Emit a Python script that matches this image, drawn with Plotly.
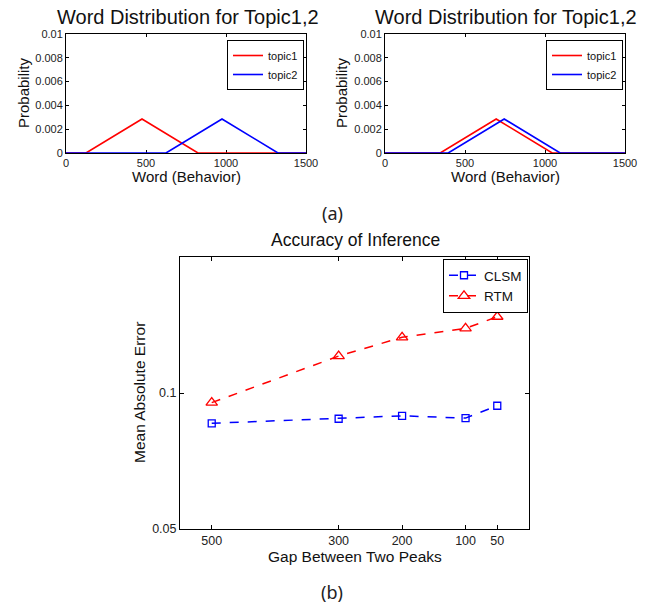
import plotly.graph_objects as go

# ---- data ----
# (a) left panel: gap 500
left_topic1_x = [0, 125, 475, 825, 1500]
left_topic1_y = [0, 0, 0.00286, 0, 0]
left_topic2_x = [0, 625, 975, 1325, 1500]
left_topic2_y = [0, 0, 0.00286, 0, 0]
# (a) right panel: gap 50
right_topic1_x = [0, 345, 695, 1045, 1500]
right_topic1_y = [0, 0, 0.00286, 0, 0]
right_topic2_x = [0, 395, 745, 1095, 1500]
right_topic2_y = [0, 0, 0.00286, 0, 0]

word_ticks = [0, 500, 1000, 1500]
prob_ticks = [0, 0.002, 0.004, 0.006, 0.008, 0.01]
prob_tick_text = ["0", "0.002", "0.004", "0.006", "0.008", "0.01"]

# (b) accuracy of inference
gap = [500, 300, 200, 100, 50]
clsm = [0.0857, 0.0877, 0.0890, 0.0880, 0.0937]
rtm = [0.0952, 0.1207, 0.1328, 0.1390, 0.1475]
mae_ticks = [0.05, 0.1]
mae_tick_text = ["0.05", "0.1"]

W, H = 656, 608
FONT = "Liberation Sans, Arial, Helvetica, sans-serif"
RED = "#ff0000"
BLUE = "#0000ff"


def fx(x):
    return x / W


def fy(y):
    return 1 - y / H


fig = go.Figure()

# top-left
fig.add_trace(go.Scatter(x=left_topic1_x, y=left_topic1_y, mode="lines", name="topic1",
                         line=dict(color=RED, width=1.6), xaxis="x", yaxis="y", legend="legend"))
fig.add_trace(go.Scatter(x=left_topic2_x, y=left_topic2_y, mode="lines", name="topic2",
                         line=dict(color=BLUE, width=1.6), xaxis="x", yaxis="y", legend="legend"))
# top-right
fig.add_trace(go.Scatter(x=right_topic1_x, y=right_topic1_y, mode="lines", name="topic1",
                         line=dict(color=RED, width=1.6), xaxis="x2", yaxis="y2", legend="legend2"))
fig.add_trace(go.Scatter(x=right_topic2_x, y=right_topic2_y, mode="lines", name="topic2",
                         line=dict(color=BLUE, width=1.6), xaxis="x2", yaxis="y2", legend="legend2"))
# bottom
fig.add_trace(go.Scatter(x=gap, y=clsm, mode="lines+markers", name="CLSM",
                         line=dict(color=BLUE, width=1.5, dash="dash"),
                         marker=dict(symbol="square-open", size=7, color=BLUE, line=dict(width=1.3)),
                         xaxis="x3", yaxis="y3", legend="legend3"))
fig.add_trace(go.Scatter(x=gap, y=rtm, mode="lines+markers", name="RTM",
                         line=dict(color=RED, width=1.5, dash="dash"),
                         marker=dict(symbol="triangle-up-open", size=10, color=RED, line=dict(width=1.3)),
                         xaxis="x3", yaxis="y3", legend="legend3"))

axis_common = dict(showline=True, linecolor="black", linewidth=1, mirror="ticks", ticks="inside",
                   tickcolor="black", showgrid=False, zeroline=False, layer="below traces")

small_tick = dict(family=FONT, size=11, color="#222")
big_tick = dict(family=FONT, size=12.5, color="#222")

top_y_dom = [fy(153), fy(34)]

legend_common = dict(bgcolor="white", bordercolor="black", borderwidth=1,
                     font=dict(family=FONT, size=11, color="#111"),
                     xanchor="right", yanchor="top", tracegroupgap=0, itemwidth=30)

fig.update_layout(
    width=W, height=H, autosize=False,
    margin=dict(l=0, r=0, t=0, b=0, autoexpand=False),
    paper_bgcolor="white", plot_bgcolor="white",
    xaxis=dict(domain=[fx(66), fx(306)], range=[0, 1500], tickvals=word_ticks, ticklen=3,
               anchor="y", tickfont=small_tick, **axis_common),
    yaxis=dict(domain=top_y_dom, range=[0, 0.01], tickvals=prob_ticks, ticktext=prob_tick_text,
               ticklen=3, anchor="x", tickfont=small_tick, **axis_common),
    xaxis2=dict(domain=[fx(385), fx(625)], range=[0, 1500], tickvals=word_ticks, ticklen=3,
                anchor="y2", tickfont=small_tick, **axis_common),
    yaxis2=dict(domain=top_y_dom, range=[0, 0.01], tickvals=prob_ticks, ticktext=prob_tick_text,
                ticklen=3, anchor="x2", tickfont=small_tick, **axis_common),
    xaxis3=dict(domain=[fx(180), fx(529)], range=[550, 0], tickvals=gap, ticklen=4,
                anchor="y3", tickfont=big_tick, **axis_common),
    yaxis3=dict(domain=[fy(529), fy(257)], type="log", range=[-1.30103, -0.69897],
                tickvals=mae_ticks, ticktext=mae_tick_text, ticklen=4, anchor="x3",
                tickfont=big_tick, **axis_common),
    legend=dict(x=fx(304), y=fy(40), **legend_common),
    legend2=dict(x=fx(623), y=fy(40), **legend_common),
    legend3=dict(x=fx(528), y=fy(259), **{**legend_common, "font": dict(family=FONT, size=13.5, color="#111")}),
)

annotations = [
    dict(text="Word Distribution for Topic1,2", x=fx(188), y=fy(17), size=20),
    dict(text="Word Distribution for Topic1,2", x=fx(506), y=fy(17), size=20),
    dict(text="Word (Behavior)", x=fx(187), y=fy(176), size=15),
    dict(text="Word (Behavior)", x=fx(505), y=fy(176), size=15),
    dict(text="Probability", x=fx(23), y=fy(93), size=15, angle=-90),
    dict(text="Probability", x=fx(341), y=fy(93), size=15, angle=-90),
    dict(text="Accuracy of Inference", x=fx(355), y=fy(240), size=17.5),
    dict(text="Mean Absolute Error", x=fx(139), y=fy(393), size=15.5, angle=-90),
    dict(text="Gap Between Two Peaks", x=fx(355), y=fy(556), size=15.5),
]
for a in annotations:
    fig.add_annotation(text=a["text"], x=a["x"], y=a["y"], xref="paper", yref="paper",
                       xanchor="center", yanchor="middle", showarrow=False,
                       textangle=a.get("angle", 0),
                       font=dict(family=FONT, size=a["size"], color="#111"))

for txt, yy in [("(a)", 213), ("(b)", 592)]:
    fig.add_annotation(text=txt, x=fx(332), y=fy(yy), xref="paper", yref="paper",
                       xanchor="center", yanchor="middle", showarrow=False,
                       font=dict(family="Noto Sans, Open Sans, sans-serif", size=18, color="#222"))

fig.write_html("out.html", config={"displayModeBar": False},
               post_script="document.body.style.margin='0px';document.body.style.padding='0px';")
